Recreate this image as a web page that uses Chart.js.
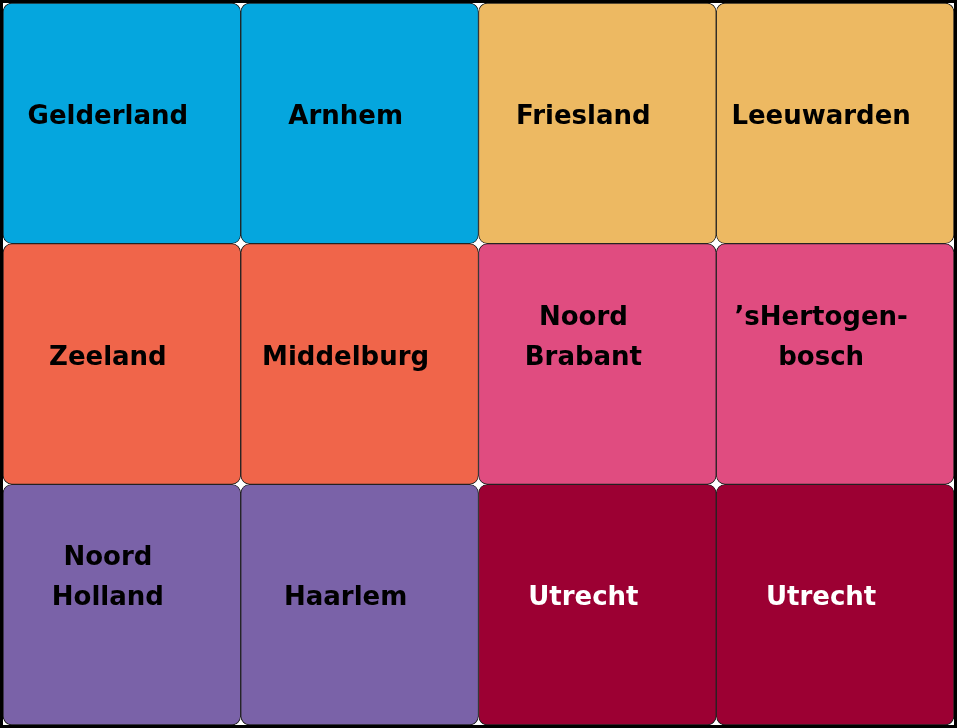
<!DOCTYPE html>
<html><head><meta charset="utf-8">
<script src="https://cdn.jsdelivr.net/npm/chart.js@4/dist/chart.umd.min.js"></script>
<style>
html,body{margin:0;padding:0;background:#000;}
#wrap{position:absolute;left:3px;top:3px;width:951px;height:722px;background:#fff;}
</style></head><body>
<div id="wrap"><canvas id="c"></canvas></div>
<script>
const columns = ['c1','c2','c3','c4'];
const row1Labels = ['Gelderland','Arnhem','Friesland','Leeuwarden'];
const row2Labels = ['Zeeland','Middelburg','Noord\nBrabant','\u2019sHertogen-\nbosch'];
const row3Labels = ['Noord\nHolland','Haarlem','Utrecht','Utrecht'];
const row1Colors = ['#05A6DE','#05A6DE','#EDB962','#EDB962'];
const row2Colors = ['#F0654A','#F0654A','#E04C80','#E04C80'];
const row3Colors = ['#7A62A8','#7A62A8','#9C0033','#9C0033'];
const row3TextColors = ['#000','#000','#fff','#fff'];
const row1Range = [[0,1],[0,1],[0,1],[0,1]];
const row2Range = [[1,2],[1,2],[1,2],[1,2]];
const row3Range = [[2,3],[2,3],[2,3],[2,3]];

const ds = (range, labels, colors, textColors) => ({
  data: range, labelsText: labels, textColors: textColors || ['#000','#000','#000','#000'],
  backgroundColor: colors, borderColor: '#222', borderWidth: 1, borderRadius: 9, borderSkipped: false,
  barPercentage: 1, categoryPercentage: 1, grouped: false
});

const labelPlugin = {
  id: 'tileLabels',
  afterDatasetsDraw(chart) {
    const ctx = chart.ctx;
    ctx.save();
    ctx.font = 'bold 26px "DejaVu Sans", sans-serif';
    ctx.textAlign = 'center';
    ctx.textBaseline = 'middle';
    chart.data.datasets.forEach((d, di) => {
      chart.getDatasetMeta(di).data.forEach((el, i) => {
        const cx = el.x - 14;
        const cy = (el.y + el.base) / 2 - 6;
        const lines = d.labelsText[i].split('\n');
        ctx.fillStyle = d.textColors[i];
        lines.forEach((ln, k) => {
          ctx.fillText(ln, cx, cy - (lines.length - 1 - k) * 40);
        });
      });
    });
    ctx.restore();
  }
};

new Chart(document.getElementById('c'), {
  type: 'bar',
  data: { labels: columns, datasets: [ds(row1Range,row1Labels,row1Colors), ds(row2Range,row2Labels,row2Colors), ds(row3Range,row3Labels,row3Colors,row3TextColors)] },
  options: {
    responsive: true, maintainAspectRatio: false, animation: false,
    layout: { padding: 0 },
    plugins: { legend: { display: false }, tooltip: { enabled: false } },
    scales: {
      x: { display: false, offset: true },
      y: { display: false, reverse: true, min: 0, max: 3 }
    }
  },
  plugins: [labelPlugin]
});
</script></body></html>
